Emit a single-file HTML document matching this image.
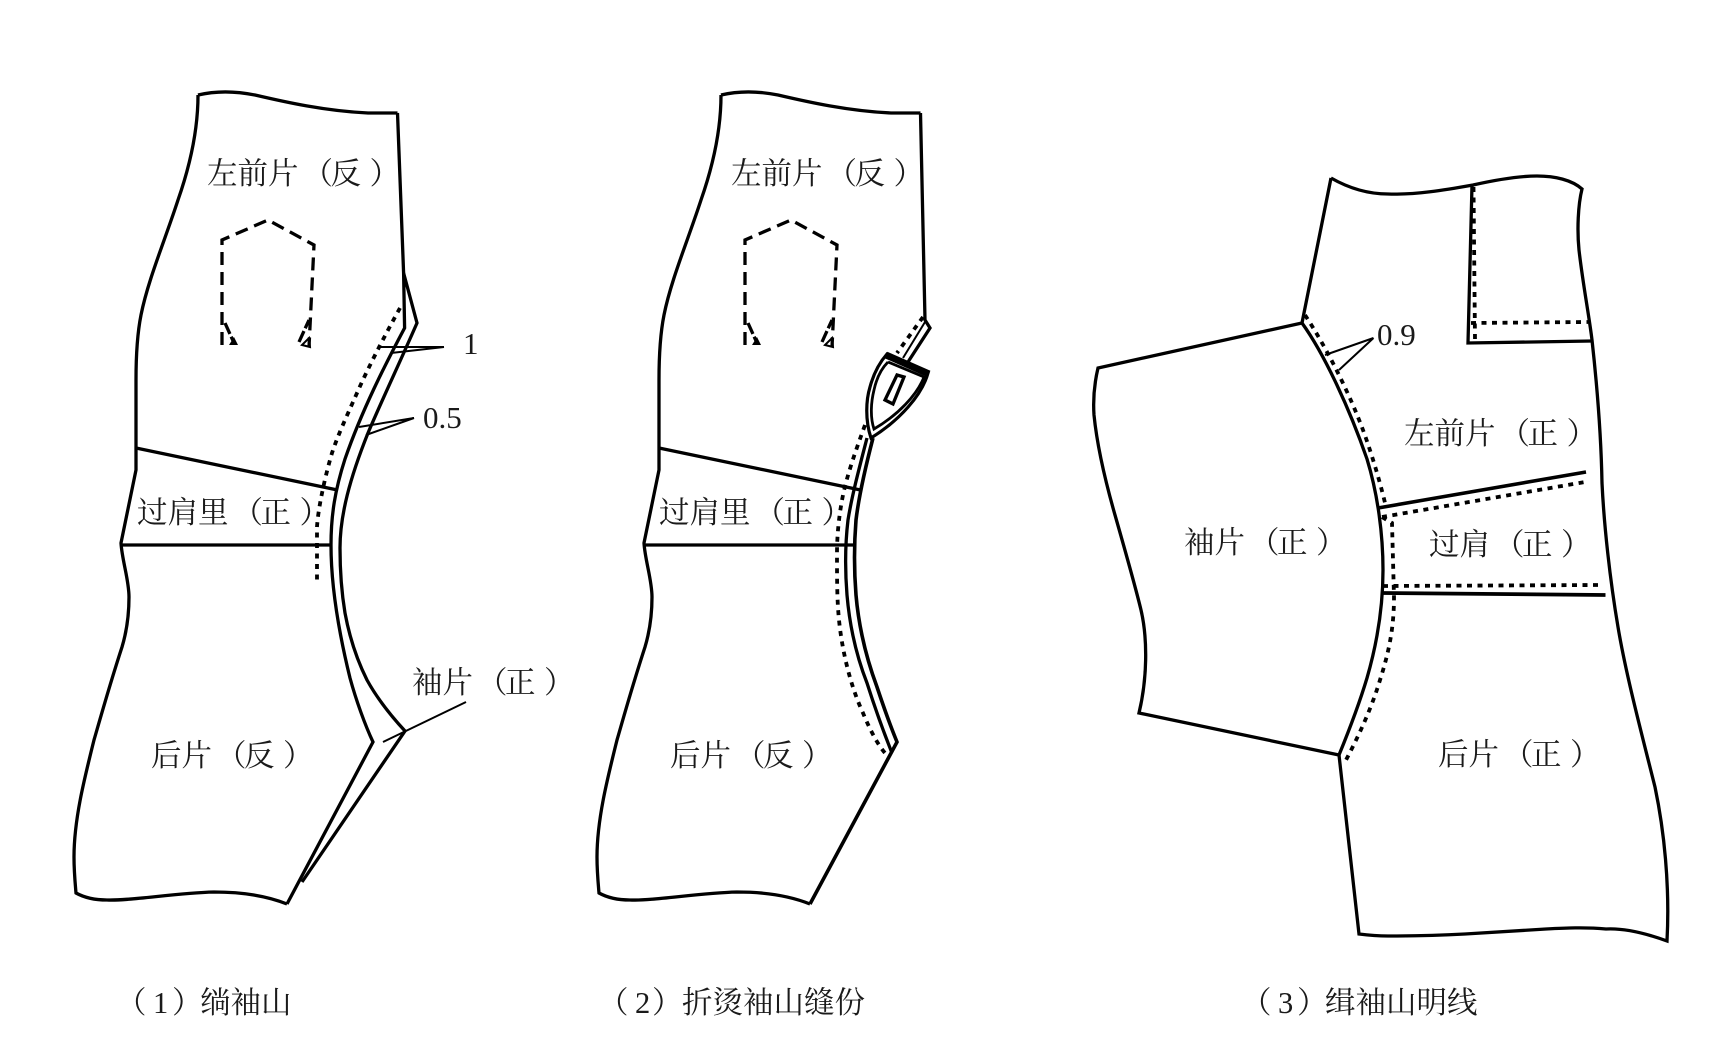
<!DOCTYPE html>
<html lang="zh">
<head>
<meta charset="utf-8">
<title>绱袖山</title>
<style>
html,body{margin:0;padding:0;background:#fff;}
svg{display:block;}
.l{fill:none;stroke:#000;stroke-width:3.3;stroke-linejoin:miter;}
.t{stroke-width:2;}
.d{fill:none;stroke:#000;stroke-width:3.8;stroke-dasharray:5 5.5;}
.p{fill:none;stroke:#000;stroke-width:3.3;stroke-dasharray:13 7;}
text{font-family:"Liberation Serif","Noto Serif CJK SC",serif;font-size:30.5px;fill:#1a1a1a;}
.n{font-size:31px;}
</style>
</head>
<body>
<svg width="1715" height="1047" viewBox="0 0 1715 1047" xmlns="http://www.w3.org/2000/svg">
<rect width="1715" height="1047" fill="#fff"/>

<!-- Piece 1 -->
<g id="a">
<path class="l" d="M198 95C215 91 235 91 255 95C285 102 325 111 368 113L397.5 113"/>
<path class="l" d="M198 95C198 125 192 160 178 200C165 240 148 280 141 315C137 335 136 355 136 380L136 470L121 543C122 560 129 580 129 597C129 620 125 637 122 647C108 690 97 730 94 740C84 780 74 820 74 857C74 870 75 882 76 893C85 898 95 900 107 900C130 901 175 893 214 892C235 892 262 894 287 904"/>
<path class="l" d="M136 448L337.5 490"/>
<path class="l" d="M121 545L330 545"/>
<path class="p" d="M222 345L222 240L268 220L314 245L309 347"/>
<path class="p" style="stroke-dasharray:12 3" d="M225 323L234 343"/>
<path class="p" style="stroke-dasharray:12 3" d="M299 342L309 320"/>
<path d="M229 345L238 345L234 337Z"/>
<path d="M302 345L310 347L309 338Z" fill="none" stroke="#000" stroke-width="2"/>
</g>
<path class="l" d="M397.5 113L403.6 273L404.6 328C385 365 362 410 345 459C335 490 331 515 331 545C331 580 337 625 350 678C356 700 365 725 373 742L287 904"/>
<path class="l" d="M403.6 273L417 323C400 362 382 400 368 433C350 478 340 515 340 548C340 575 342 595 345 613C350 640 358 662 367 680C378 700 393 718 405 731L302 882"/>
<path class="d" d="M400 308C385 335 367 370 357 393C345 420 338 435 332 453C324 480 318 510 317 527L317 580"/>
<path class="l t" d="M444 347L378 347M444 347L391 353"/>
<path class="l t" d="M414 418L359 427M414 418L366 435"/>
<path class="l t" d="M466 702L383 742"/>

<!-- Piece 2 -->
<use href="#a" transform="translate(523 0)"/>
<path class="l" d="M920.5 113L925 320L930 328L908 362"/>
<path class="l t" d="M925 322L903 358"/>
<path class="d" d="M923 317L897 353"/>
<path d="M887 354L928 373C922 395 900 420 871 438C865 420 866 400 870 387C874 372 880 362 887 354Z" fill="#fff" stroke="#000" stroke-width="3.2"/>
<path d="M888 362L924 377C917 395 898 415 874 429C870 417 871 402 874 390C877 376 882 368 888 362" fill="none" stroke="#000" stroke-width="2.8"/>
<path class="l" style="stroke-width:7" d="M886 355L929 374"/>
<path class="l" d="M897 375L904 377L893 404L885 400Z"/>
<path class="l" d="M867 438C860 465 852 495 848 520C845 545 845 570 847 595C850 630 858 660 867 683C874 705 884 733 892 753"/>
<path class="l" style="stroke-width:3.6" d="M873 438C866 465 859 495 856 520C854 545 854 570 856 595C859 630 867 660 877 687C883 705 890 725 897 742L810 904"/>
<path class="d" d="M865 425C856 450 848 472 843 495C839 515 837 535 837 553C837 580 837 600 839 620C842 650 850 685 863 713C870 730 878 745 885 753"/>

<!-- Piece 3 -->
<path class="l" d="M1331 178C1345 186 1365 194 1388 194C1415 195 1445 190 1473 185C1495 180 1520 176 1537 176C1555 176 1572 180 1582 189C1578 205 1577 230 1579 250C1583 285 1589 315 1592 340C1597 385 1601 430 1602 483C1604 525 1610 580 1618 627C1626 675 1642 735 1655 787C1664 830 1670 885 1667 941C1645 933 1625 928 1606 929C1585 927 1565 928 1546 929C1510 931 1485 933 1465 934C1430 936 1405 936 1388 936C1375 936 1367 935 1359 934L1339 755"/>
<path class="l" d="M1331 178L1302 323L1098 368C1094 385 1093 400 1094 415C1097 445 1105 480 1115 515C1125 550 1135 585 1141 610C1148 640 1147 680 1139 713L1339 755"/>
<path class="l" d="M1302 323C1325 355 1350 410 1367 459C1378 495 1383 535 1383 570C1383 605 1378 640 1367 678C1358 708 1348 733 1339 755"/>
<path class="d" d="M1305 315C1328 350 1350 395 1363 430C1374 460 1382 490 1386 507"/>
<path class="d" d="M1382 517L1392 523L1394 597C1394 630 1388 655 1380 680C1371 710 1358 737 1345 762"/>
<path class="l" style="stroke-width:3.6" d="M1378 508L1586 472"/>
<path class="d" d="M1382 517L1585 482"/>
<path class="d" d="M1383 586L1600 585"/>
<path class="l" style="stroke-width:3.8" d="M1382 593L1605.5 595"/>
<path class="l" d="M1472 185L1468 343L1592 341"/>
<path class="d" d="M1473.5 187L1475 340"/>
<path class="d" d="M1471 323L1588 322"/>
<path class="l t" d="M1373.5 338L1325 355M1373.5 338L1339 370"/>

<!-- Labels -->
<text x="207" y="184">左前片<tspan dx="4">（</tspan><tspan dx="-2.5">反</tspan><tspan dx="8.5">）</tspan></text>
<text x="137" y="523">过肩里<tspan dx="4">（</tspan><tspan dx="-2.5">正</tspan><tspan dx="8.5">）</tspan></text>
<text x="151" y="766">后片<tspan dx="4">（</tspan><tspan dx="-2.5">反</tspan><tspan dx="8.5">）</tspan></text>
<text x="412" y="693">袖片<tspan dx="4">（</tspan><tspan dx="-2.5">正</tspan><tspan dx="8.5">）</tspan></text>
<text class="n" x="463" y="354">1</text>
<text class="n" x="423" y="428">0.5</text>

<text x="731" y="184">左前片<tspan dx="4">（</tspan><tspan dx="-2.5">反</tspan><tspan dx="8.5">）</tspan></text>
<text x="659" y="523">过肩里<tspan dx="4">（</tspan><tspan dx="-2.5">正</tspan><tspan dx="8.5">）</tspan></text>
<text x="670" y="766">后片<tspan dx="4">（</tspan><tspan dx="-2.5">反</tspan><tspan dx="8.5">）</tspan></text>

<text x="1404" y="444">左前片<tspan dx="4">（</tspan><tspan dx="-2.5">正</tspan><tspan dx="8.5">）</tspan></text>
<text x="1184" y="553">袖片<tspan dx="4">（</tspan><tspan dx="-2.5">正</tspan><tspan dx="8.5">）</tspan></text>
<text x="1429" y="555">过肩<tspan dx="4">（</tspan><tspan dx="-2.5">正</tspan><tspan dx="8.5">）</tspan></text>
<text x="1438" y="765">后片<tspan dx="4">（</tspan><tspan dx="-2.5">正</tspan><tspan dx="8.5">）</tspan></text>
<text class="n" x="1377" y="345">0.9</text>

<text x="116" y="1013">（</text><text x="153" y="1013">1</text><text x="172" y="1013">）</text><text x="200" y="1013">绱袖山</text>
<text x="598" y="1013">（</text><text x="635" y="1013">2</text><text x="652" y="1013">）</text><text x="682" y="1013">折烫袖山缝份</text>
<text x="1241" y="1013">（</text><text x="1278" y="1013">3</text><text x="1297" y="1013">）</text><text x="1325" y="1013">缉袖山明线</text>
</svg>
</body>
</html>
